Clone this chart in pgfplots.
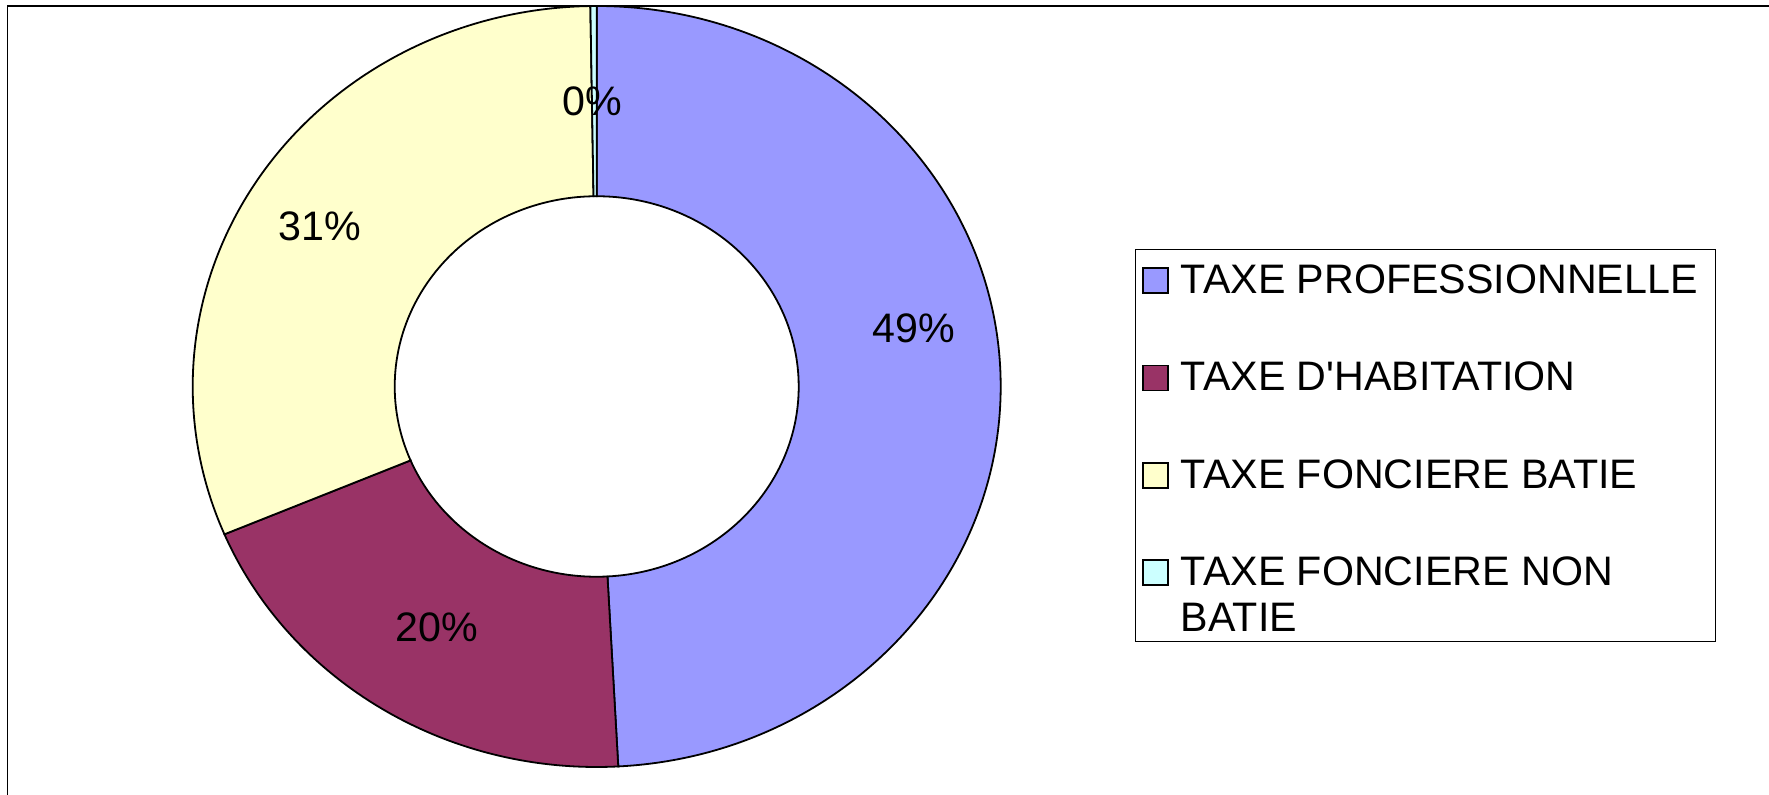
\documentclass[border=0pt]{standalone}
\usepackage{pgfplots}
\pgfplotsset{compat=1.18}
\usepackage{pgfplotstable}
\usepackage{fontspec}
\setmainfont{Liberation Sans}
\definecolor{cProf}{HTML}{9999FF}
\definecolor{cHab}{HTML}{993366}
\definecolor{cFB}{HTML}{FFFFCC}
\definecolor{cFNB}{HTML}{CCFFFF}

% shares in percent, clockwise from 12 o'clock
\pgfplotstableread{
idx value
0 49.15
1 19.5
2 31.1
3 0.25
}\shares

\newcommand\ringsector[3]{%
  \filldraw[fill=#1, draw=black, line width=0.9pt]
    (axis cs:0,0) ++(#2:202pt and 190.25pt)
    arc[start angle=#2, end angle=#3, x radius=202pt, y radius=190.25pt]
    -- ++({#3+180}:101pt and 95.125pt)
    arc[start angle=#3, end angle=#2, x radius=101pt, y radius=95.125pt]
    -- cycle;}

\begin{document}
\begin{tikzpicture}
\path[use as bounding box] (0,0) rectangle (884.5pt,-397.5pt);
\pgfplotstablegetelem{0}{value}\of\shares \let\vA\pgfplotsretval
\pgfplotstablegetelem{1}{value}\of\shares \let\vB\pgfplotsretval
\pgfplotstablegetelem{2}{value}\of\shares \let\vC\pgfplotsretval
\pgfplotstablegetelem{3}{value}\of\shares \let\vD\pgfplotsretval
\pgfmathsetmacro\aA{90}
\pgfmathsetmacro\aB{\aA-3.6*\vA}
\pgfmathsetmacro\aC{\aB-3.6*\vB}
\pgfmathsetmacro\aD{\aC-3.6*\vC}
\pgfmathsetmacro\aE{\aD-3.6*\vD}
\draw[line width=0.6pt] (3.65pt,-397.5pt) -- (3.65pt,-3pt) -- (884.5pt,-3pt);
\begin{axis}[
  at={(298.35pt,-193.25pt)}, anchor=center,
  scale only axis, width=404pt, height=380.5pt,
  xmin=-1, xmax=1, ymin=-1, ymax=1,
  hide axis, clip=false,
  legend cell align=left,
  legend style={name=leg, at={(axis description cs:1.1674,0.6762)}, anchor=north west,
    draw=none, inner sep=3pt, row sep=26.75pt, column sep=3pt,
    font=\fontsize{20.6}{23}\selectfont, nodes={inner sep=3pt, align=left}},
]
\ringsector{cProf}{\aA}{\aB}
\ringsector{cHab}{\aB}{\aC}
\ringsector{cFB}{\aC}{\aD}
\ringsector{cFNB}{\aD}{\aE}

\addlegendimage{legend image code/.code={\draw[fill=cProf, draw=black, line width=0.8pt] (0pt,-6.25pt) rectangle (12.5pt,6.25pt);}}
\addlegendentry{TAXE PROFESSIONNELLE}
\addlegendimage{legend image code/.code={\draw[fill=cHab, draw=black, line width=0.8pt] (0pt,-6.25pt) rectangle (12.5pt,6.25pt);}}
\addlegendentry{TAXE D\textquotesingle HABITATION}
\addlegendimage{legend image code/.code={\draw[fill=cFB, draw=black, line width=0.8pt] (0pt,-6.25pt) rectangle (12.5pt,6.25pt);}}
\addlegendentry{TAXE FONCIERE BATIE}
\addlegendimage{legend image code/.code={\path[draw=none, fill=none] (0pt,-17.75pt) rectangle (12.5pt,-17.75pt); \draw[fill=cFNB, draw=black, line width=0.8pt] (0pt,5.25pt) rectangle (12.5pt,17.75pt);}}
\addlegendentry{TAXE FONCIERE NON\\BATIE}

\node[font=\fontsize{20.6}{23}\selectfont] at (axis cs:0.785,0.154) {49\%};
\node[font=\fontsize{20.6}{23}\selectfont] at (axis cs:-0.3965,-0.632) {20\%};
\node[font=\fontsize{20.6}{23}\selectfont] at (axis cs:-0.685,0.422) {31\%};
\node[font=\fontsize{20.6}{23}\selectfont] at (axis cs:-0.010,0.749) {0\%};
\end{axis}
\draw[line width=0.5pt] ([yshift=1.5pt]leg.north west) rectangle ([xshift=2.8pt, yshift=2.7pt]leg.south east);
\end{tikzpicture}
\end{document}
